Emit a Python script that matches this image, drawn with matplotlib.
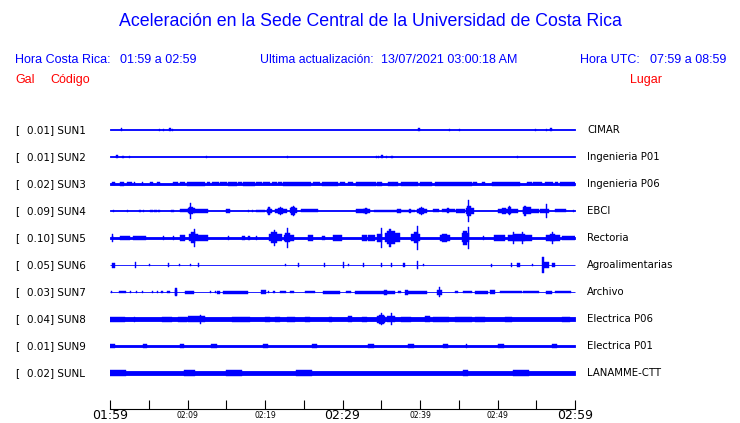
import matplotlib
matplotlib.use('Agg')
import matplotlib.pyplot as plt

W, H = 740, 423

codes = ['SUN1', 'SUN2', 'SUN3', 'SUN4', 'SUN5', 'SUN6', 'SUN7', 'SUN8', 'SUN9', 'SUNL']
places = ['CIMAR', 'Ingenieria P01', 'Ingenieria P06', 'EBCI', 'Rectoria',
          'Agroalimentarias', 'Archivo', 'Electrica P06', 'Electrica P01', 'LANAMME-CTT']
gal = [0.01, 0.01, 0.02, 0.09, 0.10, 0.05, 0.03, 0.04, 0.01, 0.02]

time_ticks = [0, 10, 20, 30, 40, 50, 60]
time_labels = ['01:59', '02:09', '02:19', '02:29', '02:39', '02:49', '02:59']
minor_ticks = [5, 15, 25, 35, 45, 55]

# background level of each trace (half amplitude, in pixels of the record)
noise = [0.5, 0.5, 0.7, 0.5, 1.4, 0.5, 0.5, 1.9, 1.4, 2.3]

# bursts: (start minute, end minute, half amplitude)
sun1 = [(1.4, 1.6, 1.5), (6.3, 6.5, 1.3), (6.8, 7.0, 1.0), (7.55, 7.85, 1.5), (7.95, 8.1, 1.3),
        (39.8, 40.0, 1.5), (43.7, 43.9, 1.3), (45.0, 45.2, 1.3), (54.8, 55.0, 1.3),
        (56.2, 56.35, 0.8), (56.8, 57.05, 1.5)]
sun2 = [(0.8, 1.0, 1.5), (1.6, 1.75, 0.8), (2.4, 2.55, 0.8), (12.35, 12.5, 0.8), (22.85, 23.0, 0.8),
        (34.4, 34.5, 0.8), (34.6, 34.7, 0.8), (35.0, 35.25, 1.5), (35.55, 35.7, 1.3),
        (36.2, 36.55, 1.4), (52.55, 52.7, 0.8)]
sun3 = [(0.2, 0.7, 1.5), (1.3, 1.85, 1.8), (2.15, 2.8, 1.5), (3.1, 3.25, 1.5), (4.15, 4.3, 1.5),
        (5.15, 5.6, 1.5), (6.0, 6.45, 1.5), (8.1, 8.8, 1.5), (9.0, 9.7, 1.5), (9.9, 12.25, 1.6),
        (12.5, 12.9, 1.5), (13.1, 14.0, 1.5), (14.2, 15.05, 1.5), (15.25, 16.35, 1.6),
        (16.55, 17.0, 1.5), (17.2, 18.7, 1.6), (18.9, 19.6, 1.5), (19.8, 20.65, 1.5),
        (20.85, 21.5, 1.5), (21.7, 22.15, 1.5), (22.35, 26.0, 1.7), (26.25, 27.1, 1.5),
        (27.3, 29.45, 1.6), (29.7, 30.3, 1.5), (30.75, 31.4, 1.5), (31.8, 34.3, 1.7),
        (34.4, 35.05, 2.0), (35.9, 36.55, 2.3), (36.55, 37.2, 1.7), (37.6, 39.8, 1.6),
        (40.0, 41.5, 1.6), (41.9, 46.65, 1.7), (46.9, 47.3, 1.5), (47.95, 48.4, 1.5),
        (49.25, 52.9, 1.7), (53.75, 54.4, 1.5), (54.6, 55.7, 1.5), (56.1, 57.2, 1.5),
        (57.4, 57.85, 1.5), (58.05, 60.0, 1.6)]
sun4 = [(0.35, 0.5, 1.0), (2.15, 2.3, 0.8), (3.8, 3.95, 1.0), (4.25, 4.4, 1.0), (5.2, 5.5, 1.2),
        (5.7, 6.0, 1.2), (6.2, 6.5, 1.2), (7.9, 8.2, 1.0), (9.0, 10.1, 1.5), (10.0, 11.0, 2.5),
        (10.2, 10.7, 3.5), (10.3, 10.45, 8.0), (10.9, 12.7, 1.8), (15.0, 15.5, 1.7),
        (17.75, 17.9, 0.8), (18.3, 18.45, 0.8), (18.9, 20.0, 1.2), (20.2, 20.9, 2.2),
        (20.4, 20.7, 3.2), (20.45, 20.6, 4.0), (21.3, 22.8, 1.8), (21.7, 22.3, 2.8),
        (21.95, 22.1, 4.0), (23.2, 24.1, 2.5), (23.4, 23.9, 3.8), (23.55, 23.75, 5.0),
        (24.7, 26.9, 1.5), (31.8, 33.5, 1.6), (32.6, 33.3, 2.3), (32.9, 33.1, 3.2),
        (34.0, 39.4, 1.4), (37.0, 37.6, 2.3), (38.6, 38.9, 2.3), (39.6, 40.9, 2.0),
        (39.9, 40.5, 3.0), (40.1, 40.3, 4.0), (41.7, 42.4, 1.5), (42.8, 44.5, 1.5),
        (43.5, 43.8, 2.5), (44.7, 45.8, 1.8), (45.9, 47.0, 3.0), (46.0, 46.6, 5.0),
        (46.15, 46.35, 11.0), (50.1, 52.7, 1.8), (50.6, 51.1, 3.0), (51.35, 51.75, 3.5),
        (51.45, 51.65, 4.5), (53.3, 55.3, 2.3), (53.35, 54.3, 3.5), (53.45, 53.65, 5.0),
        (55.5, 56.6, 1.8), (56.2, 56.35, 7.0), (57.4, 58.9, 1.5), (59.7, 59.85, 1.0)]
sun5 = [(0.2, 0.45, 2.0), (0.25, 0.4, 4.0), (1.3, 2.6, 1.8), (3.0, 4.7, 1.8), (6.85, 7.0, 2.0),
        (8.1, 8.25, 2.0), (9.0, 9.7, 2.5), (10.2, 11.4, 3.5), (10.5, 11.0, 5.5), (10.85, 11.0, 9.0),
        (11.4, 12.7, 2.5), (15.25, 15.4, 2.0), (17.0, 17.45, 2.0), (17.85, 18.0, 2.0),
        (18.9, 19.0, 2.0), (20.5, 22.2, 3.5), (20.8, 21.6, 5.5), (21.1, 21.3, 8.0),
        (22.4, 23.7, 3.0), (22.6, 23.2, 4.5), (22.85, 23.0, 10.0), (25.6, 26.2, 2.5),
        (27.3, 27.7, 2.0), (28.8, 29.9, 2.5), (32.5, 33.1, 3.0), (33.3, 34.2, 3.0),
        (34.4, 35.1, 4.0), (34.95, 35.1, 10.0), (35.5, 37.4, 4.5), (35.8, 36.8, 6.5),
        (36.0, 36.2, 9.0), (38.8, 40.0, 3.5), (39.2, 39.8, 5.5), (39.55, 39.7, 12.0),
        (42.6, 43.9, 2.5), (42.9, 43.5, 4.0), (45.4, 46.3, 4.5), (45.6, 46.1, 7.0),
        (46.2, 46.35, 11.0), (48.1, 48.25, 2.0), (49.5, 51.0, 3.0), (51.4, 54.4, 2.5),
        (52.0, 53.5, 3.5), (52.0, 52.15, 6.0), (53.2, 53.35, 6.0), (56.3, 58.1, 2.5),
        (56.8, 57.4, 3.5), (57.0, 57.15, 6.0), (58.3, 60.0, 2.0)]
sun6 = [(0.3, 0.7, 2.5), (3.25, 3.4, 3.0), (5.0, 5.1, 1.0), (7.45, 7.6, 2.0), (8.9, 9.0, 0.8),
        (10.4, 10.5, 0.8), (11.35, 11.5, 2.0), (22.55, 22.65, 0.8), (24.25, 24.4, 2.0),
        (27.65, 27.8, 2.0), (30.05, 30.2, 3.0), (30.7, 30.8, 1.0), (32.65, 32.8, 2.0),
        (34.95, 35.1, 2.0), (36.25, 36.4, 2.0), (37.75, 38.0, 2.0), (39.55, 39.7, 4.0),
        (40.4, 40.5, 1.0), (49.2, 49.35, 1.5), (51.75, 51.9, 2.0), (52.5, 52.9, 2.0),
        (54.45, 54.6, 1.0), (55.8, 55.95, 8.0), (55.9, 56.6, 3.0), (57.0, 57.4, 2.0)]
sun7 = [(0.1, 0.25, 0.8), (1.2, 2.0, 1.2), (2.6, 2.75, 1.0), (3.3, 3.45, 1.0), (4.1, 4.25, 1.0),
        (5.4, 5.55, 1.0), (6.0, 6.15, 1.0), (6.6, 6.9, 1.2), (7.4, 7.7, 1.2), (8.35, 8.7, 2.5),
        (8.45, 8.6, 4.0), (9.7, 10.8, 1.5), (12.9, 13.05, 1.0), (13.5, 13.65, 1.0),
        (13.8, 14.2, 1.5), (14.6, 17.8, 1.5), (19.5, 20.1, 2.0), (20.4, 20.55, 1.0),
        (21.0, 21.3, 1.0), (21.9, 22.7, 1.0), (23.2, 23.8, 1.0), (25.1, 26.4, 1.0),
        (27.5, 29.7, 1.5), (30.5, 31.1, 1.0), (31.6, 36.8, 1.5), (35.4, 35.7, 2.5),
        (37.2, 37.6, 1.0), (38.0, 38.5, 2.5), (38.5, 40.9, 1.5), (42.2, 42.8, 2.5),
        (42.45, 42.6, 5.0), (44.5, 44.9, 0.8), (45.6, 46.7, 1.0), (47.1, 48.8, 1.5),
        (49.0, 49.7, 2.2), (50.3, 53.1, 1.2), (53.3, 55.3, 1.0), (56.3, 57.0, 1.5),
        (57.4, 59.5, 1.2)]
sun8 = [(0.0, 1.9, 2.5), (3.1, 3.25, 2.5), (6.7, 7.95, 2.5), (8.8, 9.9, 2.5), (10.1, 12.3, 3.0),
        (11.6, 11.75, 4.5), (15.7, 18.0, 2.5), (20.0, 20.65, 2.5), (21.3, 21.9, 2.5),
        (22.8, 23.9, 2.5), (25.2, 25.8, 2.5), (28.2, 28.6, 2.5), (30.75, 31.2, 3.0),
        (32.5, 33.1, 2.5), (34.4, 35.5, 3.5), (34.7, 35.3, 4.5), (34.95, 35.1, 6.0),
        (35.7, 36.8, 3.2), (36.25, 36.4, 6.0), (37.6, 38.9, 2.5), (40.65, 41.3, 3.0),
        (41.7, 43.7, 2.5), (44.5, 46.65, 2.5), (47.1, 48.4, 2.5), (51.0, 51.85, 2.5),
        (58.3, 59.3, 2.5)]
sun9 = [(0.0, 0.6, 1.6), (4.2, 4.8, 1.6), (9.0, 9.5, 1.6), (13.0, 13.8, 1.6), (19.8, 20.4, 1.6),
        (26.0, 26.7, 1.6), (33.3, 34.0, 1.6), (38.5, 39.2, 1.6), (43.0, 43.6, 1.6),
        (45.9, 46.05, 2.2), (50.0, 50.8, 1.6), (57.0, 57.7, 1.6)]
sunl = [(0.0, 2.0, 2.6), (9.5, 11.0, 2.6), (15.0, 17.0, 2.6), (24.0, 26.0, 2.6),
        (45.5, 46.2, 3.0), (52.0, 54.0, 2.6)]
bursts = [sun1, sun2, sun3, sun4, sun5, sun6, sun7, sun8, sun9, sunl]

blue = '#0000ff'
red = '#ff0000'


def fx(x):
    return x / W


def fy(y):
    return 1 - y / H


fig = plt.figure(figsize=(W / 100, H / 100), dpi=100)
fig.patch.set_facecolor('white')

# trace panel: 60 minutes wide, one row per station, 27 px between rows
row_px = 27.0
ax = fig.add_axes([fx(110), fy(386.5), fx(465), 270 / H])
ax.set_xlim(0, 60)
ax.set_ylim(9.5, -0.5)
ax.axis('off')

for i in range(len(codes)):
    base = max(noise[i], 0.5) / row_px
    ax.fill_between([0, 60], i - base, i + base, color=blue, linewidth=0.6, edgecolor=blue)
    starts = [b[0] for b in bursts[i]]
    ends = [b[1] for b in bursts[i]]
    amps = [b[2] / row_px for b in bursts[i]]
    widths = [max(e - s, 0.13) for s, e in zip(starts, ends)]
    centers = [(s + e) / 2 for s, e in zip(starts, ends)]
    ax.bar(centers, [2 * a for a in amps], width=widths, bottom=[i - a for a in amps],
           color=blue, edgecolor=blue, linewidth=0.3)

    fig.text(fx(15), fy(130 + row_px * i), '[', fontsize=7.5, va='center', ha='left')
    fig.text(fx(27), fy(130 + row_px * i), '%.2f] %s' % (gal[i], codes[i]),
             fontsize=7.5, va='center', ha='left')
    fig.text(fx(587), fy(130 + row_px * i), places[i], fontsize=7.3, va='center', ha='left')

# time axis
tax = fig.add_axes([fx(110), fy(409), fx(465), 9 / H])
tax.set_xlim(0, 60)
tax.set_ylim(0, 1)
tax.patch.set_alpha(0)
for s in ['top', 'left', 'right']:
    tax.spines[s].set_visible(False)
tax.spines['bottom'].set_linewidth(0.8)
tax.set_yticks([])
tax.set_xticks(time_ticks, time_labels)
tax.set_xticks(minor_ticks, minor=True)
tax.tick_params(axis='x', which='both', direction='in', length=6.5, width=0.8, pad=4.6)
for k, lab in enumerate(tax.get_xticklabels()):
    lab.set_fontsize(9 if k % 3 == 0 else 5.5)
    lab.set_verticalalignment('center')

# header
sans = ['Liberation Sans', 'DejaVu Sans']
fig.text(0.5, fy(22), 'Aceleración en la Sede Central de la Universidad de Costa Rica',
         color=blue, fontsize=12.8, ha='center', va='center', family=sans)
fig.text(fx(15), fy(60), 'Hora Costa Rica:', color=blue, fontsize=9, va='center', family=sans)
fig.text(fx(120), fy(60), '01:59 a 02:59', color=blue, fontsize=9, va='center', family=sans)
fig.text(fx(260), fy(60), 'Ultima actualización:', color=blue, fontsize=8.8, va='center', family=sans)
fig.text(fx(381), fy(60), '13/07/2021 03:00:18 AM', color=blue, fontsize=9, va='center', family=sans)
fig.text(fx(580), fy(60), 'Hora UTC:', color=blue, fontsize=9, va='center', family=sans)
fig.text(fx(650), fy(60), '07:59 a 08:59', color=blue, fontsize=9, va='center', family=sans)
fig.text(fx(15), fy(80), 'Gal', color=red, fontsize=9, va='center', family=sans)
fig.text(fx(50), fy(80), 'Código', color=red, fontsize=9, va='center', family=sans)
fig.text(fx(630), fy(80), 'Lugar', color=red, fontsize=9, va='center', family=sans)

fig.savefig('out.png', dpi=100)
